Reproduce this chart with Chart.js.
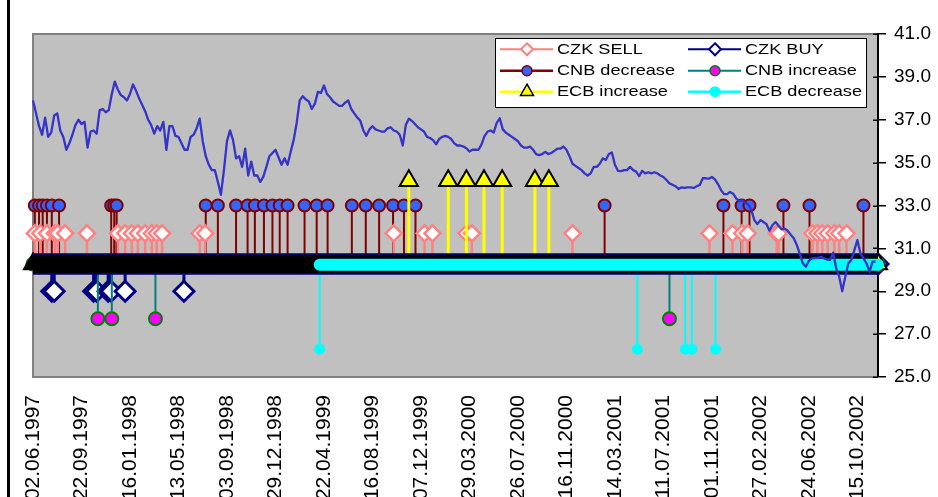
<!DOCTYPE html>
<html><head><meta charset="utf-8">
<script src="https://cdn.jsdelivr.net/npm/chart.js@4.4.1/dist/chart.umd.min.js"></script>
<style>
html,body{margin:0;padding:0;background:#fff;overflow:hidden;width:938px;height:497px}
#wrap{position:relative;width:938px;height:540px}
canvas{display:block}
</style></head><body>
<div id="wrap"><canvas id="c" width="938" height="540" style="width:938px;height:540px"></canvas></div>
<script>
// ---- tick labels (business-day index of each label) ----
const xTickIndex = [0,80,160,240,320,400,480,560,640,720,800,880,960,1040,1120,1200,1280,1360];
const xTickLabels = ['02.06.1997','22.09.1997','16.01.1998','13.05.1998','03.09.1998','29.12.1998',
  '22.04.1999','16.08.1999','07.12.1999','29.03.2000','26.07.2000','16.11.2000','14.03.2001',
  '11.07.2001','01.11.2001','27.02.2002','24.06.2002','15.10.2002'];
const lastDay = 1394;

// ---- exchange rate, one value every 5 business days ----
const rateStep = 5;
const rateValues = [
  37.9,37.3,36.7,36.3,37.1,36.2,36.4,37.2,37.3,36.5,
  36.2,35.6,35.9,36.3,36.75,37.0,36.8,36.9,35.7,36.45,
  36.5,36.35,37.45,37.5,37.35,37.45,38.2,38.78,38.4,38.15,
  38.05,37.9,38.2,38.65,38.35,38.0,37.7,37.4,37.0,36.75,
  36.35,36.7,36.5,36.9,35.6,36.7,36.7,36.25,36.2,35.9,
  35.6,35.6,36.2,36.3,36.6,37.05,36.0,35.3,34.9,34.65,
  34.65,34.1,33.5,34.65,36.0,36.5,36.05,35.2,35.3,34.8,
  35.65,34.4,35.05,34.4,34.4,34.1,34.35,34.8,35.3,35.45,
  35.6,35.25,34.9,35.2,34.9,35.5,36.05,36.85,37.9,38.1,
  37.95,37.85,37.5,37.75,38.3,38.25,38.6,38.2,38.05,37.85,
  37.75,37.65,37.65,37.8,37.9,37.5,37.3,37.1,36.95,36.5,
  36.25,36.55,36.7,36.55,36.5,36.45,36.45,36.6,36.65,36.5,
  36.45,36.3,35.8,36.75,37.05,36.95,36.8,36.65,36.55,36.45,
  36.2,36.15,36.05,35.85,36.1,36.2,36.25,36.2,36.1,35.9,
  35.8,35.8,35.75,35.67,35.52,35.6,35.6,35.6,35.85,36.25,
  36.45,36.5,36.4,36.85,37.07,36.55,36.4,36.3,36.2,36.1,
  36.0,35.8,35.7,35.7,35.75,35.6,35.4,35.35,35.4,35.5,
  35.4,35.45,35.55,35.65,35.65,35.75,35.6,35.3,34.95,34.85,
  34.75,34.65,34.5,34.4,34.5,34.8,34.8,34.95,35.2,35.12,
  35.4,35.47,34.9,34.62,34.6,34.65,34.65,34.8,34.65,34.58,
  34.37,34.62,34.5,34.55,34.5,34.55,34.5,34.4,34.33,34.19,
  34.03,33.97,33.9,33.77,33.85,33.82,33.85,33.85,33.82,33.9,
  33.96,34.27,34.27,34.25,34.33,34.22,34.0,33.72,33.53,33.53,
  33.63,33.55,33.33,33.2,33.24,33.13,33.05,32.8,32.32,32.13,
  32.32,32.23,32.13,31.82,32.09,32.23,32.05,31.89,31.92,31.82,
  31.64,31.47,31.16,30.74,30.3,30.14,30.42,30.53,30.55,30.56,
  30.61,30.53,30.48,30.46,30.8,30.07,29.68,29.0,29.68,30.3,
  30.46,30.92,31.39,30.77,30.53,30.3,29.9,30.38,30.38
];

// ---- event series: days (business-day index) and plotted level ----
const seriesNames = ['CZK SELL','CZK BUY','CNB decrease','CNB increase','ECB increase','ECB decrease'];
const baseLevel = 30.27;
const czkSellDays = [3,12,23,36,41,53,89,140,152,163,173,185,196,204,213,275,284,595,646,659,715,724,890,
  1116,1154,1170,1179,1227,1230,1286,1294,1302,1311,1322,1330,1342];
const czkSellLevel = 31.7;
const czkBuyDays = [31,35,100,105,124,129,152,249];
const czkBuyLevel = 29.0;
const cnbDecreaseDays = [3,10,16,23,31,43,129,134,138,285,305,335,354,366,381,395,407,420,448,468,486,
  526,549,571,594,612,631,943,1139,1169,1182,1238,1281,1370];
const cnbDecreaseLevel = 33.0;
const cnbIncreaseDays = [107,130,202,1050];
const cnbIncreaseLevel = 27.72;
const ecbIncreaseDays = [620,685,715,744,774,828,851];
const ecbIncreaseLevel = 34.15;
const ecbDecreaseDays = [473,997,1076,1087,1126];
const ecbDecreaseLevel = 26.3;
const ecbSeriesStart = 473;

function stems(days, level) {
  const pts = [{x:0, y:baseLevel}];
  days.forEach(d => { pts.push({x:d, y:baseLevel}, {x:d, y:level}, {x:d, y:baseLevel}); });
  pts.push({x:lastDay, y:baseLevel});
  return pts;
}
// marker only at event peaks; optionally also at the series ends on the base line
function markerR(r, startEnd, lastEnd) {
  return ctx => {
    const p = ctx.raw; if (!p) return 0;
    if (p.y !== baseLevel) return r;
    if (startEnd && p.x === 0) return r;
    if (lastEnd && p.x === lastDay) return r;
    return 0;
  };
}
function eventSet(label, days, level, o) {
  return Object.assign({
    type:'line', label, data: stems(days, level), clip:false,
    borderWidth:2, tension:0, pointHoverRadius:0, pointHitRadius:0
  }, o);
}

const COLORS = {
  sell:'#FF8080', buy:'#000080', cnbDec:'#800000', cnbDecFill:'#3366FF',
  cnbInc:'#008080', cnbIncFill:'#FF00FF', cnbIncBorder:'#008000',
  ecbInc:'#FFFF00', ecbDec:'#00FFFF', rate:'#3434C9'
};

const datasets = [
  { type:'line', label:'rate', data: rateValues.map((v,i)=>({x:i*rateStep, y:v})),
    borderColor:COLORS.rate, borderWidth:2.3, pointRadius:0, order:0, clip:false, borderJoinStyle:'round' },
  { type:'line', label:'bandCyan', data:[{x:ecbSeriesStart,y:baseLevel-0.03},{x:lastDay,y:baseLevel-0.03}],
    borderColor:COLORS.ecbDec, borderWidth:12, borderCapStyle:'round', pointRadius:0, order:1, clip:false },
  { type:'line', label:'bandBlack', data:[{x:0,y:baseLevel},{x:lastDay,y:baseLevel}],
    borderColor:'#000000', borderWidth:18.6, pointRadius:0, order:2, clip:false },
  { type:'line', label:'bandNavy', data:[{x:0,y:baseLevel},{x:lastDay,y:baseLevel}],
    borderColor:COLORS.buy, borderWidth:21.4, pointRadius:0, order:3, clip:false },
  eventSet(seriesNames[5], ecbDecreaseDays, ecbDecreaseLevel, {
    borderColor:COLORS.ecbDec, borderWidth:2, pointStyle:'circle', pointRadius:markerR(5.5,false,false),
    pointBackgroundColor:COLORS.ecbDec, pointBorderColor:COLORS.ecbDec, pointBorderWidth:0, order:4 }),
  eventSet(seriesNames[4], ecbIncreaseDays, ecbIncreaseLevel, {
    borderColor:COLORS.ecbInc, borderWidth:3, pointStyle:'triangle', pointRadius:markerR(10.5,true,true),
    pointBackgroundColor: c => (c.raw && c.raw.x === 0) ? '#000' : COLORS.ecbInc,
    pointBorderColor:'#000', pointBorderWidth:2, order:5 }),
  eventSet(seriesNames[3], cnbIncreaseDays, cnbIncreaseLevel, {
    borderColor:COLORS.cnbInc, borderWidth:2, pointStyle:'circle', pointRadius:markerR(6.5,true,true),
    pointBackgroundColor:COLORS.cnbIncFill, pointBorderColor:COLORS.cnbIncBorder, pointBorderWidth:2, order:6 }),
  eventSet(seriesNames[1], czkBuyDays, czkBuyLevel, {
    borderColor:COLORS.buy, borderWidth:3, pointStyle:'rectRot', pointRadius:markerR(10,false,true),
    pointBackgroundColor:'#FFFFFF', pointBorderColor:COLORS.buy, pointBorderWidth:3, order:7 }),
  eventSet(seriesNames[0], czkSellDays, czkSellLevel, {
    borderColor:COLORS.sell, borderWidth:2.5, pointStyle:'rectRot', pointRadius:markerR(8,false,false),
    pointBackgroundColor:'#FFFFFF', pointBorderColor:COLORS.sell, pointBorderWidth:2.5, order:8 }),
  eventSet(seriesNames[2], cnbDecreaseDays, cnbDecreaseLevel, {
    borderColor:COLORS.cnbDec, borderWidth:2, pointStyle:'circle', pointRadius:markerR(6,false,false),
    pointBackgroundColor:COLORS.cnbDecFill, pointBorderColor:COLORS.cnbDec, pointBorderWidth:2, order:9 })
];

const bgPlugin = {
  id:'bg',
  beforeDraw(chart) {
    const {ctx, chartArea:a} = chart;
    ctx.save();
    ctx.fillStyle = '#fff'; ctx.fillRect(0,0,chart.width,chart.height);
    ctx.fillStyle = '#C0C0C0'; ctx.fillRect(a.left, a.top, a.right-a.left, a.bottom-a.top);
    ctx.strokeStyle = '#808080'; ctx.lineWidth = 2;
    ctx.beginPath();
    ctx.moveTo(a.right, a.top); ctx.lineTo(a.left, a.top); ctx.lineTo(a.left, a.bottom); ctx.lineTo(a.right, a.bottom);
    ctx.stroke();
    ctx.fillStyle = '#000'; ctx.fillRect(7, 0, 3, chart.height);
    ctx.restore();
  },
  afterDraw(chart) {
    // short inner part of the right-axis tick marks
    const {ctx, chartArea:a} = chart, ys = chart.scales.y;
    ctx.save(); ctx.strokeStyle = '#000'; ctx.lineWidth = 1.5;
    ys.ticks.forEach(t => {
      const py = Math.round(ys.getPixelForValue(t.value)) + 0.25;
      ctx.beginPath(); ctx.moveTo(a.right - 5, py); ctx.lineTo(a.right, py); ctx.stroke();
    });
    ctx.restore();
  }
};

function drawMarker(ctx, style, x, y, r, fill, stroke, bw) {
  ctx.beginPath();
  if (style === 'circle') ctx.arc(x, y, r, 0, Math.PI*2);
  else if (style === 'diamond') { ctx.moveTo(x, y-r); ctx.lineTo(x+r, y); ctx.lineTo(x, y+r); ctx.lineTo(x-r, y); ctx.closePath(); }
  else if (style === 'triangle') { ctx.moveTo(x, y-r); ctx.lineTo(x+r*0.866, y+r*0.5); ctx.lineTo(x-r*0.866, y+r*0.5); ctx.closePath(); }
  ctx.fillStyle = fill; ctx.fill();
  if (bw > 0) { ctx.lineWidth = bw; ctx.strokeStyle = stroke; ctx.stroke(); }
}

const legendItems = [
  {name:seriesNames[0], col:0, row:0, line:COLORS.sell, lw:2, m:'diamond', r:6, fill:'#fff', stroke:COLORS.sell, bw:2},
  {name:seriesNames[1], col:1, row:0, line:COLORS.buy, lw:2, m:'diamond', r:6, fill:'#fff', stroke:COLORS.buy, bw:2},
  {name:seriesNames[2], col:0, row:1, line:COLORS.cnbDec, lw:2.5, m:'circle', r:5, fill:COLORS.cnbDecFill, stroke:COLORS.cnbDec, bw:1.5},
  {name:seriesNames[3], col:1, row:1, line:COLORS.cnbInc, lw:2, m:'circle', r:5, fill:COLORS.cnbIncFill, stroke:COLORS.cnbIncBorder, bw:1.5},
  {name:seriesNames[4], col:0, row:2, line:COLORS.ecbInc, lw:2.5, m:'triangle', r:7.5, fill:COLORS.ecbInc, stroke:'#000', bw:1.5},
  {name:seriesNames[5], col:1, row:2, line:COLORS.ecbDec, lw:2.5, m:'circle', r:5.5, fill:COLORS.ecbDec, stroke:COLORS.ecbDec, bw:0}
];

const legendPlugin = {
  id:'boxLegend',
  afterDraw(chart) {
    const {ctx, chartArea:a} = chart;
    const L = a.left + 462, T = a.top + 4, W = 372, H = 70;
    ctx.save();
    ctx.fillStyle = '#fff'; ctx.fillRect(L, T, W, H);
    ctx.strokeStyle = '#000'; ctx.lineWidth = 1; ctx.strokeRect(L+0.5, T+0.5, W-1, H-1);
    const colX = [L + 5, L + 193];
    const rowY = [T + 11.3, T + 32.7, T + 53.7];
    legendItems.forEach(it => {
      const x0 = colX[it.col], y = rowY[it.row];
      ctx.beginPath(); ctx.moveTo(x0, y); ctx.lineTo(x0 + 53, y);
      ctx.strokeStyle = it.line; ctx.lineWidth = it.lw; ctx.stroke();
      drawMarker(ctx, it.m, x0 + 27, y, it.r, it.fill, it.stroke, it.bw);
      ctx.save();
      ctx.translate(x0 + 57, y + 0.5);
      ctx.scale(1.21, 1);
      ctx.fillStyle = '#000';
      ctx.font = '15px "Liberation Sans", Arial, sans-serif';
      ctx.textBaseline = 'middle'; ctx.textAlign = 'left';
      ctx.fillText(it.name, 0, 0);
      ctx.restore();
    });
    ctx.restore();
  }
};

new Chart(document.getElementById('c'), {
  type:'line',
  data:{ datasets },
  options:{
    responsive:false, animation:false, devicePixelRatio:1,
    layout:{ padding:{ left:33, top:34, right:0, bottom:0 } },
    plugins:{ legend:{display:false}, tooltip:{enabled:false} },
    events:[],
    scales:{
      x:{
        type:'linear', min:0, max:lastDay,
        afterBuildTicks: s => { s.ticks = xTickIndex.map(v => ({value:v})); },
        afterFit: s => { s.height = 163; },
        ticks:{ autoSkip:false, minRotation:90, maxRotation:90, padding:18, color:'#000',
          font:{ family:'"Liberation Sans", Arial, sans-serif', size:21 },
          callback:(v, i) => xTickLabels[i] },
        grid:{ display:false, drawTicks:false }, border:{ display:false }
      },
      y:{
        type:'linear', position:'right', min:25, max:41,
        afterFit: s => { s.width = 60; },
        ticks:{ stepSize:2, padding:8, color:'#000', callback:v => v.toFixed(1),
          font:{ family:'"Liberation Sans", Arial, sans-serif', size:19 } },
        grid:{ drawOnChartArea:false, drawTicks:true, tickLength:8, color:'#000', lineWidth:1.5 },
        border:{ display:true, color:'#000', width:2 }
      }
    }
  },
  plugins:[bgPlugin, legendPlugin]
});
</script>
</body></html>
